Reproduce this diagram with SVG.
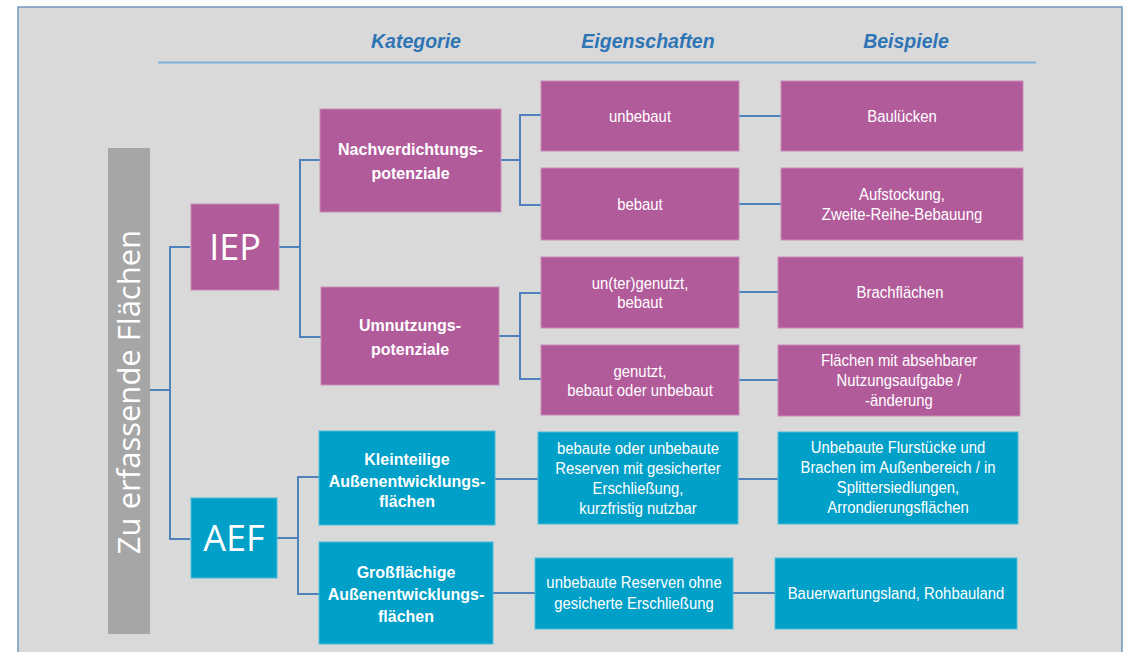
<svg xmlns="http://www.w3.org/2000/svg" width="1123" height="652" viewBox="0 0 1123 652">
<style>
.bg{fill:#d9d9d9;stroke:#7096c0;stroke-width:1.5}
.hdr{font-family:"Liberation Sans",Arial,sans-serif;font-size:19.5px;font-weight:bold;font-style:italic;fill:#2e75b6;text-anchor:middle}
.m{fill:#b25b9b;stroke:#c98bb8;stroke-width:1}
.c{fill:#00a0c8;stroke:#4cbcd8;stroke-width:1}
.t{font-family:"Liberation Sans",Arial,sans-serif;font-size:17px;fill:#fff;text-anchor:middle}
.b{font-family:"Liberation Sans",Arial,sans-serif;font-size:16px;font-weight:bold;fill:#fff;text-anchor:middle}
.big{font-family:"Open Sans","Noto Sans",sans-serif;fill:#fff;text-anchor:middle}
.con{fill:none;stroke:#4f81bd;stroke-width:2}
</style>
<rect class="bg" x="18" y="7" width="1104" height="660"/>
<line x1="158" y1="62.5" x2="1036" y2="62.5" stroke="#7fb0d8" stroke-width="2"/>
<text class="hdr" x="416" y="48">Kategorie</text>
<text class="hdr" x="648" y="48">Eigenschaften</text>
<text class="hdr" x="906" y="48">Beispiele</text>

<g id="connectors">
<path class="con" d="M150,390 H170 M190,247 H170 V539 H190"/>
<path class="con" d="M279,247 H300" stroke-width="3.5"/>
<path class="con" d="M320,160 H300 V337 H321"/>
<path class="con" d="M501,160 H520 M541,115 H520 V205 H541"/>
<path class="con" d="M739,116 H781 M739,204 H781"/>
<path class="con" d="M499,336 H520 M541,293 H520 V379 H541"/>
<path class="con" d="M739,292 H778 M739,380 H778"/>
<path class="con" d="M277,538 H298" stroke-width="3.5"/>
<path class="con" d="M319,477 H298 V594 H319"/>
<path class="con" d="M495,479 H538 M738,479 H778"/>
<path class="con" d="M493,593 H535 M733,593 H775"/>
</g>

<g id="root">
<rect x="108" y="148" width="42" height="486" fill="#a6a6a6"/>
<text class="big" font-size="31" transform="translate(140,392) rotate(-90)" x="0" y="0">Zu erfassende Flächen</text>
</g>

<g id="iep">
<rect class="m" x="191" y="204" width="88" height="86"/>
<text class="big" font-size="36" x="235" y="260">IEP</text>
</g>
<g id="aef">
<rect class="c" x="191" y="498" width="86" height="80"/>
<text class="big" font-size="36" x="234" y="551">AEF</text>
</g>

<g id="nachverdichtung">
<rect class="m" x="320" y="109" width="181" height="103"/>
<text class="b" x="410.5" y="155">Nachverdichtungs-</text>
<text class="b" x="410.5" y="179">potenziale</text>
</g>
<g id="umnutzung">
<rect class="m" x="321" y="287" width="178" height="98"/>
<text class="b" x="410" y="331">Umnutzungs-</text>
<text class="b" x="410" y="355">potenziale</text>
</g>
<g id="kleinteilig">
<rect class="c" x="319" y="431" width="176" height="94"/>
<text class="b" x="407" y="465">Kleinteilige</text>
<text class="b" x="407" y="487">Außenentwicklungs-</text>
<text class="b" x="407" y="507">flächen</text>
</g>
<g id="grossflaechig">
<rect class="c" x="319" y="542" width="174" height="102"/>
<text class="b" x="406" y="578">Großflächige</text>
<text class="b" x="406" y="600">Außenentwicklungs-</text>
<text class="b" x="406" y="622">flächen</text>
</g>

<g id="unbebaut">
<rect class="m" x="541" y="81" width="198" height="70"/>
<text class="t" transform="translate(640,122) scale(.875,1)">unbebaut</text>
</g>
<g id="bebaut">
<rect class="m" x="541" y="168" width="198" height="72"/>
<text class="t" transform="translate(640,210) scale(.875,1)">bebaut</text>
</g>
<g id="untergenutzt">
<rect class="m" x="541" y="257" width="198" height="71"/>
<text class="t" transform="translate(640,289) scale(.875,1)">un(ter)genutzt,</text>
<text class="t" transform="translate(640,308) scale(.875,1)">bebaut</text>
</g>
<g id="genutzt">
<rect class="m" x="541" y="345" width="198" height="70"/>
<text class="t" transform="translate(640,377) scale(.875,1)">genutzt,</text>
<text class="t" transform="translate(640,396) scale(.875,1)">bebaut oder unbebaut</text>
</g>
<g id="reserven-gesichert">
<rect class="c" x="538" y="432" width="200" height="92"/>
<text class="t" transform="translate(638,454) scale(.875,1)">bebaute oder unbebaute</text>
<text class="t" transform="translate(638,474) scale(.875,1)">Reserven mit gesicherter</text>
<text class="t" transform="translate(638,494) scale(.875,1)">Erschließung,</text>
<text class="t" transform="translate(638,514) scale(.875,1)">kurzfristig nutzbar</text>
</g>
<g id="reserven-ohne">
<rect class="c" x="535" y="558" width="198" height="71"/>
<text class="t" transform="translate(634,588) scale(.875,1)">unbebaute Reserven ohne</text>
<text class="t" transform="translate(634,609) scale(.875,1)">gesicherte Erschließung</text>
</g>

<g id="baulucken">
<rect class="m" x="781" y="81" width="242" height="70"/>
<text class="t" transform="translate(902,122) scale(.875,1)">Baulücken</text>
</g>
<g id="aufstockung">
<rect class="m" x="781" y="168" width="242" height="72"/>
<text class="t" transform="translate(902,200) scale(.875,1)">Aufstockung,</text>
<text class="t" transform="translate(902,220) scale(.875,1)">Zweite-Reihe-Bebauung</text>
</g>
<g id="brachflaechen">
<rect class="m" x="778" y="257" width="245" height="71"/>
<text class="t" transform="translate(900,298) scale(.875,1)">Brachflächen</text>
</g>
<g id="nutzungsaufgabe">
<rect class="m" x="778" y="345" width="242" height="71"/>
<text class="t" transform="translate(899,366) scale(.875,1)">Flächen mit absehbarer</text>
<text class="t" transform="translate(899,386) scale(.875,1)">Nutzungsaufgabe /</text>
<text class="t" transform="translate(899,406) scale(.875,1)">-änderung</text>
</g>
<g id="flurstuecke">
<rect class="c" x="778" y="432" width="240" height="92"/>
<text class="t" transform="translate(898,453) scale(.875,1)">Unbebaute Flurstücke und</text>
<text class="t" transform="translate(898,473) scale(.875,1)">Brachen im Außenbereich / in</text>
<text class="t" transform="translate(898,493) scale(.875,1)">Splittersiedlungen,</text>
<text class="t" transform="translate(898,513) scale(.875,1)">Arrondierungsflächen</text>
</g>
<g id="bauerwartungsland">
<rect class="c" x="775" y="558" width="242" height="71"/>
<text class="t" transform="translate(896,599) scale(.875,1)">Bauerwartungsland, Rohbauland</text>
</g>
</svg>
